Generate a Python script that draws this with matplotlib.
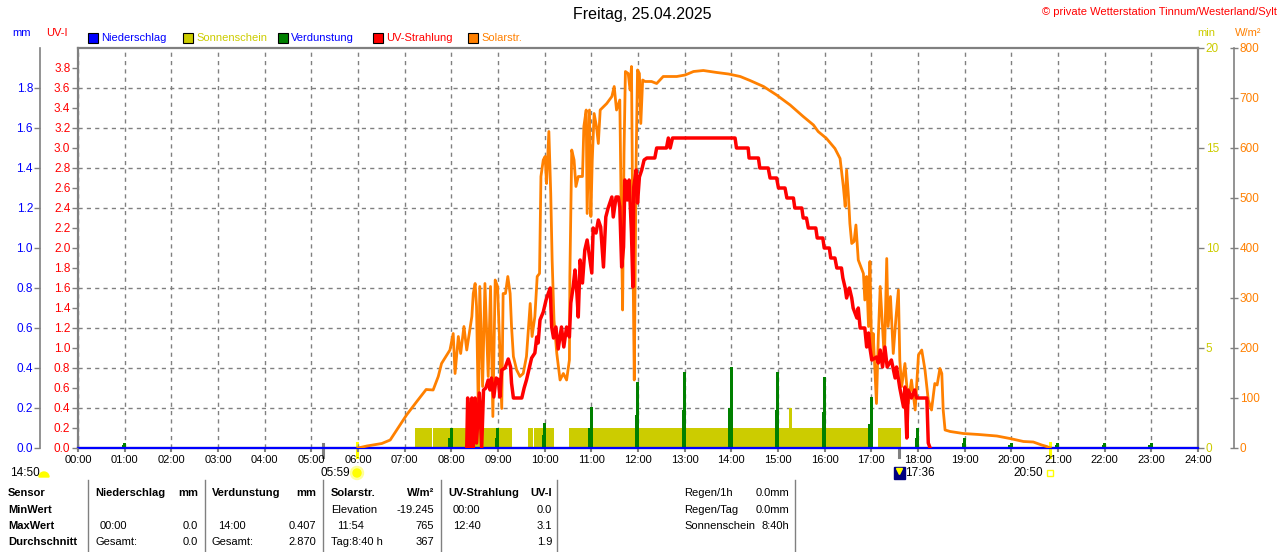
import matplotlib
matplotlib.use('Agg')
import matplotlib.pyplot as plt
from matplotlib.patches import Rectangle, Wedge, Circle
from matplotlib.transforms import blended_transform_factory
import numpy as np

plt.rcParams['font.family'] = ['Liberation Sans', 'DejaVu Sans']
plt.rcParams['font.size'] = 8

# ---------------- data ----------------
hours = list(range(25))
hour_labels = ['%02d:00' % h for h in hours]

# Solarstrahlung (W/m2)
solar_t = [6.00, 6.19, 6.51, 6.69, 6.83, 7.04, 7.26, 7.46, 7.61, 7.72, 7.79, 7.97,
           8.04, 8.08, 8.15, 8.20, 8.27, 8.33, 8.44, 8.47, 8.51, 8.54, 8.58, 8.61,
           8.67, 8.72, 8.79, 8.84, 8.89, 8.94, 8.99, 9.03, 9.08, 9.11, 9.16, 9.21,
           9.26, 9.29, 9.33, 9.40, 9.47, 9.54, 9.61, 9.69, 9.73, 9.79, 9.84, 9.89,
           9.92, 9.97, 10.01, 10.04, 10.09, 10.13, 10.16, 10.20, 10.26, 10.33, 10.40,
           10.47, 10.53, 10.54, 10.58, 10.63, 10.67, 10.72, 10.81, 10.84, 10.89, 10.91,
           10.96, 10.99, 11.02, 11.06, 11.11, 11.15, 11.19, 11.33, 11.44, 11.49, 11.54,
           11.61, 11.65, 11.67, 11.70, 11.73, 11.79, 11.83, 11.86, 11.90, 11.92, 11.96,
           11.99, 12.03, 12.06, 12.10, 12.15, 12.29, 12.40, 12.54, 12.83, 13.01, 13.19,
           13.40, 13.69, 13.94, 14.19, 14.40, 14.69, 14.97, 15.26, 15.54, 15.76, 15.86,
           16.04, 16.22, 16.33, 16.40, 16.44, 16.47, 16.51, 16.54, 16.58, 16.63, 16.67,
           16.72, 16.83, 16.86, 16.90, 16.94, 16.97, 17.01, 17.04, 17.11, 17.15, 17.19,
           17.24, 17.28, 17.33, 17.36, 17.41, 17.47, 17.53, 17.58, 17.61, 17.65, 17.72,
           17.79, 17.86, 17.94, 18.01, 18.08, 18.15, 18.22, 18.29, 18.36, 18.41, 18.47,
           18.51, 18.54, 18.58, 18.69, 18.97, 19.30, 19.69, 19.97, 20.26, 20.47, 20.65,
           20.76, 20.83]
solar_w = [0, 4, 9, 16, 36, 66, 93, 117, 116, 143, 169, 196,
           229, 149, 223, 189, 243, 196, 263, 309, 329, 283, 69, 323,
           123, 329, 143, 323, 63, 336, 323, 223, 79, 309, 309, 343,
           309, 243, 183, 156, 143, 149, 183, 289, 223, 263, 343, 349,
           543, 576, 583, 529, 633, 509, 376, 256, 189, 136, 149,
           136, 176, 343, 596, 576, 523, 543, 543, 643, 676, 469,
           676, 463, 576, 669, 643, 609, 676, 689, 703, 723, 676,
           696, 403, 276, 589, 753, 749, 716, 763, 309, 136, 576,
           756, 749, 649, 736, 733, 733, 729, 743, 743, 746, 753,
           755, 751, 748, 743, 735, 723, 706, 686, 663, 646, 633,
           619, 599, 579, 523, 483, 556, 503, 449, 409, 413, 446,
           376, 349, 296, 343, 243, 373, 176, 229, 89, 223, 323,
           243, 176, 379, 243, 303, 189, 263, 316, 176, 123, 169,
           89, 136, 76, 186, 196, 156, 96, 76, 129, 126, 159,
           149, 76, 36, 33, 29, 27, 24, 19, 13, 12, 6,
           3, 0]

# UV-Strahlung (UV-I)
uv_t = [8.33, 8.35, 8.40, 8.44, 8.47, 8.51, 8.54, 8.60, 8.65, 8.69, 8.74, 8.79,
        8.83, 8.86, 8.91, 8.96, 9.01, 9.04, 9.08, 9.15, 9.22, 9.27, 9.29, 9.33,
        9.51, 9.56, 9.61, 9.67, 9.72, 9.79, 9.83, 9.86, 9.90, 9.97, 10.03, 10.08,
        10.12, 10.15, 10.19, 10.24, 10.29, 10.36, 10.41, 10.47, 10.53, 10.56, 10.61,
        10.65, 10.69, 10.72, 10.76, 10.81, 10.86, 10.91, 10.97, 11.01, 11.04, 11.10,
        11.15, 11.20, 11.26, 11.31, 11.36, 11.44, 11.47, 11.53, 11.58, 11.61, 11.65,
        11.69, 11.72, 11.77, 11.81, 11.86, 11.89, 11.91, 11.96, 11.99, 12.03, 12.08,
        12.13, 12.19, 12.36, 12.40, 12.61, 12.65, 12.69, 12.74, 14.08, 14.11, 14.36,
        14.38, 14.58, 14.61, 14.79, 14.83, 14.97, 15.01, 15.15, 15.19, 15.33, 15.36,
        15.51, 15.54, 15.61, 15.65, 15.81, 15.84, 15.96, 15.99, 16.10, 16.13, 16.22,
        16.26, 16.36, 16.39, 16.44, 16.47, 16.53, 16.58, 16.61, 16.69, 16.72, 16.76,
        16.86, 16.90, 16.94, 16.97, 17.01, 17.11, 17.15, 17.19, 17.24, 17.29, 17.34,
        17.43, 17.51, 17.54, 17.61, 17.69, 17.72, 17.76, 17.79, 17.86, 17.93, 17.97,
        18.19, 18.22, 18.26]
uv_v = [0.0, 0.50, 0.0, 0.50, 0.0, 0.50, 0.05, 0.55, 0.0, 0.58, 0.60, 0.68,
        0.58, 0.70, 0.51, 0.70, 0.68, 0.51, 0.78, 0.80, 0.89, 0.81, 0.65, 0.50,
        0.50, 0.60, 0.68, 0.80, 0.90, 0.95, 1.11, 1.05, 1.28, 1.36, 1.48, 1.55,
        1.60, 1.21, 1.10, 1.21, 0.99, 1.21, 1.01, 1.21, 1.11, 1.45, 1.61,
        1.78, 1.55, 1.31, 1.88, 1.65, 1.98, 2.08, 1.88, 1.75, 2.20, 2.15,
        2.28, 2.21, 1.81, 2.31, 2.40, 2.51, 2.31, 2.51, 2.51, 2.41, 1.81,
        2.01, 2.68, 2.48, 2.68, 2.15, 1.61, 2.61, 2.78, 2.45, 2.71, 2.78,
        2.88, 2.90, 2.90, 3.00, 3.00, 3.10, 3.00, 3.10, 3.10, 3.00, 3.00,
        2.90, 2.90, 2.80, 2.80, 2.70, 2.70, 2.60, 2.60, 2.50, 2.50, 2.40,
        2.40, 2.30, 2.30, 2.20, 2.20, 2.10, 2.10, 2.00, 2.00, 1.90, 1.90,
        1.80, 1.80, 1.70, 1.60, 1.50, 1.60, 1.50, 1.40, 1.30, 1.40, 1.20,
        1.20, 1.01, 1.15, 1.00, 0.88, 0.91, 0.85, 0.98, 0.81, 1.01, 0.81,
        0.88, 0.70, 0.81, 0.60, 0.41, 0.61, 0.10, 0.58, 0.50, 0.58, 0.50,
        0.50, 0.05, 0.0]

# Sonnenschein (min)
sun_start = [7.22, 7.61, 9.65, 9.78, 10.53, 15.24, 17.15]
sun_end = [7.58, 9.29, 9.74, 10.19, 16.97, 15.31, 17.63]
sun_min = [1, 1, 1, 1, 1, 2, 1]

# Verdunstung (mm), Stundenwerte
evap_h = [1, 8, 9, 10, 11, 12, 13, 14, 15, 16, 17, 18, 19, 20, 21, 22, 23]
evap_top = [0.027, 0.098, 0.098, 0.127, 0.207, 0.332, 0.382, 0.407, 0.382, 0.357,
            0.257, 0.098, 0.050, 0.027, 0.027, 0.027, 0.027]
evap_low = [0.015, 0.048, 0.050, 0.065, 0.098, 0.165, 0.190, 0.200, 0.190, 0.180,
            0.120, 0.050, 0.025, 0.015, 0.015, 0.015, 0.015]

# Niederschlag (mm)
precip_t = [0, 24]
precip_mm = [0.0, 0.0]

# Mond / Sonne
moon_marks = [5.25, 17.6]
sun_marks = [5.983, 20.833]

C_BLUE = '#0000FF'
C_SUN = '#CCCC00'
C_GREEN = '#008000'
C_RED = '#FF0000'
C_ORANGE = '#FF8000'
C_GRID = '#808080'

W, H = 1280, 552
fig = plt.figure(figsize=(12.8, 5.52), dpi=100)

# pixel overlay for texts / table
bg = fig.add_axes([0, 0, 1, 1])
bg.set_xlim(0, W)
bg.set_ylim(H, 0)
bg.axis('off')

rect = [78 / W, (H - 448) / H, 1120 / W, 400 / H]
ax_sun = fig.add_axes(rect)
ax_sun.set_xlim(0, 24)
ax_sun.set_ylim(0, 20)
ax_sun.patch.set_alpha(0)

ax_evap = ax_sun.twinx()
ax_evap.set_ylim(0, 2)
ax_sol = ax_sun.twinx()
ax_sol.set_ylim(0, 800)
ax_uv = ax_sun.twinx()
ax_uv.set_ylim(0, 4)

# sunshine bars
ax_sun.bar(sun_start, sun_min, width=np.subtract(sun_end, sun_start), align='edge',
           color=C_SUN, linewidth=0, zorder=2)

# grid
ax_sun.set_xticks(hours)
ax_sun.set_xticklabels(hour_labels)
ax_sun.set_yticks([0, 5, 10, 15, 20])
ax_sun.set_yticks(np.arange(0, 21, 2), minor=True)
ax_sun.grid(which='major', axis='x', color=C_GRID, ls=(0, (3, 3)), lw=1)
ax_sun.grid(which='minor', axis='y', color=C_GRID, ls=(0, (3, 3)), lw=1)
ax_sun.set_axisbelow(True)
ax_sun.yaxis.tick_right()
ax_sun.tick_params(axis='y', which='major', colors=C_GRID, labelcolor=C_SUN,
                   length=4, width=1, pad=1.5, labelsize=8.5)
ax_sun.tick_params(axis='y', which='minor', length=0)
ax_sun.tick_params(axis='x', colors=C_GRID, labelcolor='black', length=3, width=1.5,
                   pad=2, labelsize=8)
for s in ax_sun.spines.values():
    s.set_color(C_GRID)
    s.set_linewidth(1.6)

# evaporation + precipitation
ax_evap.bar(np.array(evap_h) - 0.02, evap_low, width=0.09, color=C_GREEN, linewidth=0)
ax_evap.bar(np.array(evap_h) - 0.005, evap_top, width=0.065, color=C_GREEN, linewidth=0)
ax_evap.plot(precip_t, precip_mm, color=C_BLUE, lw=1.6, clip_on=False, zorder=5)

# solar
ax_sol.plot(solar_t, solar_w, color=C_ORANGE, lw=2.0)

# uv
ax_uv.plot(uv_t, uv_v, color=C_RED, lw=2.5)

for a in (ax_evap, ax_sol, ax_uv):
    for s in a.spines.values():
        s.set_visible(False)

ax_uv.yaxis.tick_left()
ax_uv.set_yticks(np.arange(0, 3.81, 0.2))
ax_uv.set_yticklabels(['%.1f' % v for v in np.arange(0, 3.81, 0.2)])
ax_uv.tick_params(axis='y', colors=C_GRID, labelcolor=C_RED, length=4.5, width=1,
                  pad=1, labelsize=8.5)

ax_evap.yaxis.tick_left()
ax_evap.spines['left'].set_visible(True)
ax_evap.spines['left'].set_position(('outward', 27.4))
ax_evap.spines['left'].set_color(C_GRID)
ax_evap.spines['left'].set_linewidth(1.2)
ax_evap.set_yticks(np.arange(0, 1.81, 0.2))
ax_evap.set_yticklabels(['%.1f' % v for v in np.arange(0, 1.81, 0.2)])
ax_evap.tick_params(axis='y', colors=C_GRID, labelcolor=C_BLUE, length=4, width=1,
                    pad=1, labelsize=8.5)

ax_sol.spines['right'].set_visible(True)
ax_sol.spines['right'].set_position(('outward', 26))
ax_sol.spines['right'].set_color(C_GRID)
ax_sol.spines['right'].set_linewidth(1.2)
ax_sol.set_yticks(np.arange(0, 801, 100))
ax_sol.tick_params(axis='y', colors=C_GRID, labelcolor=C_ORANGE, length=6, width=1,
                   direction='inout', pad=1, labelsize=8.5)

# sun / moon marks below axis
tr = blended_transform_factory(ax_sun.transData, bg.transData)
for m in moon_marks:
    bg.plot([m, m], [444, 457], color=C_GRID, lw=2.2, transform=tr, clip_on=False)
for m in sun_marks:
    bg.plot([m, m], [443, 457], color='#FFFF00', lw=2.2, transform=tr, clip_on=False)

bg.text(10, 473, '14:50', ha='left', va='center', fontsize=8.5)
bg.add_patch(Wedge((44, 477), 5, 180, 360, color='#FFFF00'))
bg.text(350, 473, '05:59', ha='right', va='center', fontsize=8.5)
bg.add_patch(Circle((357, 473), 6.5, color='#FFFF99'))
bg.add_patch(Circle((357, 473), 4, color='#FFFF00'))
bg.add_patch(Rectangle((894, 467), 11, 12, color='#000080'))
bg.plot([899], [471], marker='v', color='#FFFF00', ms=4)
bg.text(905, 473, '17:36', ha='left', va='center', fontsize=8.5)
bg.text(1043, 473, '20:50', ha='right', va='center', fontsize=8.5)
bg.add_patch(Rectangle((1047, 470), 6, 6, fill=False, edgecolor='#FFFF00', lw=1))

# title, legend, axis units
bg.text(642, 15, 'Freitag, 25.04.2025', ha='center', va='center', fontsize=11.5)
bg.text(1277, 12, '\u00a9 private Wetterstation Tinnum/Westerland/Sylt', ha='right',
        va='center', fontsize=8, color=C_RED)
bg.text(22, 33, 'mm', ha='center', va='center', color=C_BLUE, fontsize=8)
bg.text(57, 33, 'UV-I', ha='center', va='center', color=C_RED, fontsize=8)
bg.text(1206, 33, 'min', ha='center', va='center', color=C_SUN, fontsize=8)
bg.text(1248, 33, 'W/m\u00b2', ha='center', va='center', color=C_ORANGE, fontsize=8)

legend_labels = ['Niederschlag', 'Sonnenschein', 'Verdunstung', 'UV-Strahlung', 'Solarstr.']
legend_box = [C_BLUE, C_SUN, C_GREEN, C_RED, C_ORANGE]
legend_text = [C_BLUE, C_SUN, C_BLUE, C_RED, C_ORANGE]
for i, lab in enumerate(legend_labels):
    x0 = 88 + 95 * i
    bg.add_patch(Rectangle((x0, 33), 10, 10, facecolor=legend_box[i], edgecolor='black', lw=0.8))
    bg.text(x0 + 13, 38, lab, ha='left', va='center', color=legend_text[i], fontsize=8)

# table
for xs in [88, 205, 323, 441, 557, 795]:
    bg.plot([xs, xs], [480, 552], color=C_GRID, lw=1)

rows_y = [493, 510, 526, 542]
for y, lab in zip(rows_y, ['Sensor', 'MinWert', 'MaxWert', 'Durchschnitt']):
    bg.text(8, y, lab, ha='left', va='center', fontweight='bold', fontsize=8)

cells_left = [
    (95, 493, 'Niederschlag', True), (212, 493, 'Verdunstung', True),
    (331, 493, 'Solarstr.', True), (448, 493, 'UV-Strahlung', True),
    (100, 526, '00:00', False), (95, 542, 'Gesamt:', False),
    (218, 526, '14:00', False), (212, 542, 'Gesamt:', False),
    (331, 510, 'Elevation', False), (337, 526, '11:54', False), (331, 542, 'Tag:8:40 h', False),
    (453, 510, '00:00', False), (453, 526, '12:40', False),
    (684, 493, 'Regen/1h', False), (684, 510, 'Regen/Tag', False), (684, 526, 'Sonnenschein', False),
]
cells_right = [
    (198, 493, 'mm', True), (316, 493, 'mm', True), (434, 493, 'W/m\u00b2', True),
    (552, 493, 'UV-I', True),
    (198, 526, '0.0', False), (198, 542, '0.0', False),
    (316, 526, '0.407', False), (316, 542, '2.870', False),
    (434, 510, '-19.245', False), (434, 526, '765', False), (434, 542, '367', False),
    (552, 510, '0.0', False), (552, 526, '3.1', False), (552, 542, '1.9', False),
    (789, 493, '0.0mm', False), (789, 510, '0.0mm', False), (789, 526, '8:40h', False),
]
for x, y, t, b in cells_left:
    bg.text(x, y, t, ha='left', va='center', fontsize=8, fontweight='bold' if b else 'normal')
for x, y, t, b in cells_right:
    bg.text(x, y, t, ha='right', va='center', fontsize=8, fontweight='bold' if b else 'normal')

fig.savefig('out.png', dpi=100)
